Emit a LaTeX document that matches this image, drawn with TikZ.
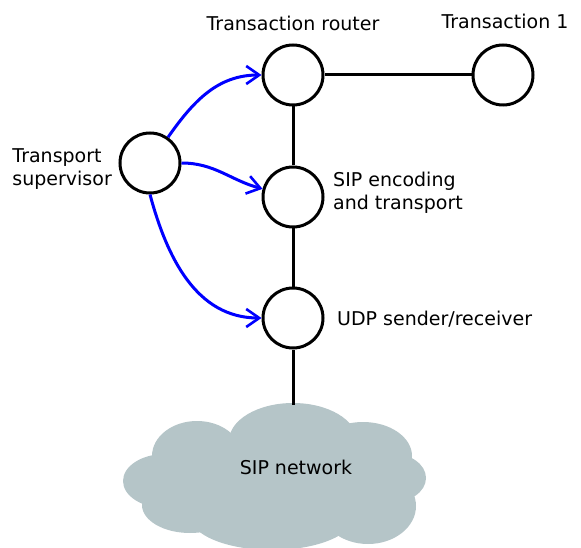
\documentclass[tikz,border=0pt]{standalone}
\usepackage{fontspec}
\setmainfont{DejaVu Sans}
\usetikzlibrary{arrows.meta}

\definecolor{cloudgrey}{RGB}{181,197,200}

\tikzset{
  proc/.style={circle,draw,line width=3pt,minimum size=60pt,inner sep=0pt},
  link/.style={line width=3pt},
  ctrl/.style={line width=3pt,blue,-{Straight Barb[length=13pt,width=18pt,line width=2.6pt]}},
  lbl/.style={font=\fontsize{19}{23}\selectfont,inner sep=0pt}
}

\begin{document}
\begin{tikzpicture}[x=1pt,y=-1pt]
  \useasboundingbox (0,0) rectangle (581,548);

  % the cloud, as a heap of puffs
  \foreach \cx/\cy/\rx/\ry in {293/441/64/38, 197/456/45/35, 363/456/49/34,
                               165/481/42/27, 390/478/36/25, 190/505/48/28,
                               272/516/82/34, 368/506/48/38, 285/475/112/45}
    \fill [cloudgrey] (\cx,\cy) ellipse [x radius=\rx, y radius=\ry];
  \node (net) at (296,467) [lbl] {SIP network};

  \node (router) [proc] at (293,75)  {};
  \node (trans)  [proc] at (503,75)  {};
  \node (super)  [proc] at (150,163) {};
  \node (enc)    [proc] at (293,197) {};
  \node (udp)    [proc] at (293,318) {};

  \node [lbl] at (293,23) {Transaction router};
  \node [lbl] at (505,21) {Transaction 1};
  \node [lbl,align=left,anchor=east] at (112,169) {Transport\\supervisor};
  \node [lbl,align=left,anchor=west] at (333,193) {SIP encoding\\and transport};
  \node [lbl,anchor=west] at (337,319) {UDP sender/receiver};

  \coordinate (nettop) at (293,405);

  \draw [link] (router) -- (trans);
  \draw [link] (router) -- (enc);
  \draw [link] (enc) -- (udp);
  \draw [link] (udp) -- (nettop);

  \draw [ctrl] (super) to [out=55,in=180] (router);
  \draw [ctrl] (super.east) to [out=0,in=165] (enc);
  \draw [ctrl] (super.south) to [out=-75,in=180] (udp);
\end{tikzpicture}
\end{document}
